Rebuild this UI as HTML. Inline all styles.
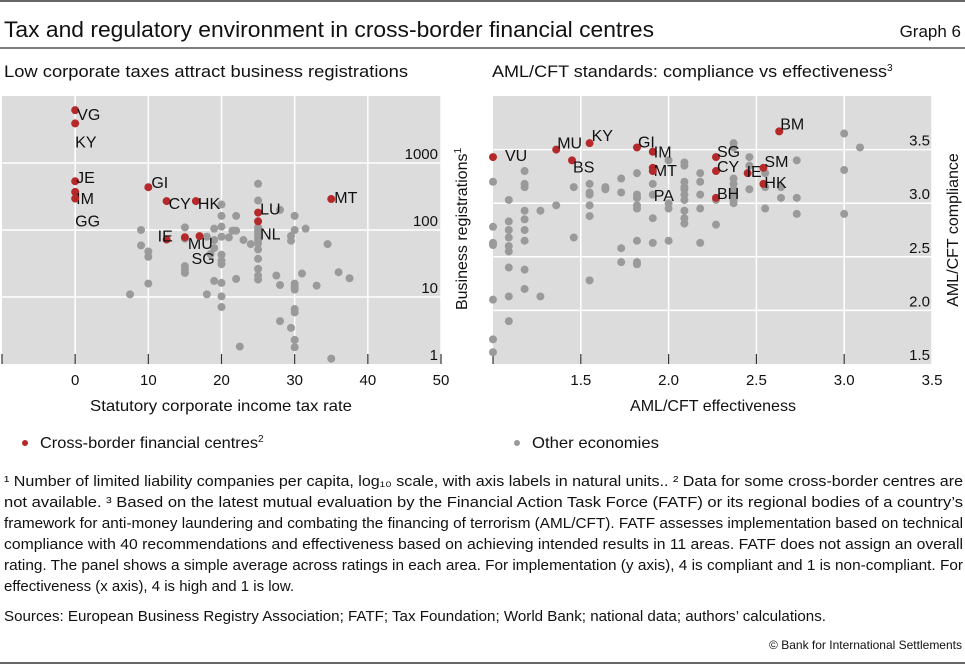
<!DOCTYPE html>
<html><head><meta charset="utf-8"><style>
body{margin:0;background:#fff;}
svg{display:block;font-family:"Liberation Sans",sans-serif;}
</style></head><body>
<svg id="chart" width="965" height="665" viewBox="0 0 965 665" xmlns="http://www.w3.org/2000/svg">
<line x1="0" y1="1" x2="965" y2="1" stroke="#333" stroke-width="1.5"/>
<text x="4" y="37" font-size="22" textLength="650" lengthAdjust="spacingAndGlyphs" fill="#111">Tax and regulatory environment in cross-border financial centres</text>
<text x="961" y="37" font-size="17" text-anchor="end" fill="#111">Graph 6</text>
<line x1="0" y1="48" x2="965" y2="48" stroke="#555" stroke-width="1.5"/>
<text x="4" y="77" font-size="17" textLength="404" lengthAdjust="spacingAndGlyphs" fill="#111">Low corporate taxes attract business registrations</text>
<text x="492" y="77" font-size="17" fill="#111"><tspan textLength="395" lengthAdjust="spacingAndGlyphs">AML/CFT standards: compliance vs effectiveness</tspan><tspan font-size="10" dy="-6">3</tspan></text>
<g id="left"></g>
<g id="right"></g>
<text x="90" y="411" font-size="16" textLength="262" lengthAdjust="spacingAndGlyphs" fill="#111">Statutory corporate income tax rate</text>
<text x="630" y="411" font-size="16" textLength="166" lengthAdjust="spacingAndGlyphs" fill="#111">AML/CFT effectiveness</text>
<text transform="translate(467,229) rotate(-90)" font-size="16" text-anchor="middle" fill="#111">Business registrations<tspan font-size="10" dy="-6">1</tspan></text>
<text transform="translate(958,230) rotate(-90)" font-size="16" text-anchor="middle" fill="#111">AML/CFT compliance</text>
<g><circle cx="25" cy="443" r="3" fill="#b5292a"/><text x="40" y="448" font-size="16" fill="#111"><tspan textLength="218" lengthAdjust="spacingAndGlyphs">Cross-border financial centres</tspan><tspan font-size="10" dy="-6">2</tspan></text></g>
<g><circle cx="517" cy="443" r="3" fill="#999"/><text x="532" y="448" font-size="16" fill="#111" textLength="127" lengthAdjust="spacingAndGlyphs">Other economies</text></g>
<g font-size="14.5" fill="#111">
<text x="4" y="486" textLength="959" lengthAdjust="spacingAndGlyphs">¹  Number of limited liability companies per capita, log₁₀ scale, with axis labels in natural units..   ²  Data for some cross-border centres are</text>
<text x="4" y="507" textLength="959" lengthAdjust="spacingAndGlyphs">not available.   ³  Based on the latest mutual evaluation by the Financial Action Task Force (FATF) or its regional bodies of a country’s</text>
<text x="4" y="528" textLength="959" lengthAdjust="spacingAndGlyphs">framework for anti-money laundering and combating the financing of terrorism (AML/CFT). FATF assesses implementation based on technical</text>
<text x="4" y="549" textLength="959" lengthAdjust="spacingAndGlyphs">compliance with 40 recommendations and effectiveness based on achieving intended results in 11 areas. FATF does not assign an overall</text>
<text x="4" y="570" textLength="959" lengthAdjust="spacingAndGlyphs">rating. The panel shows a simple average across ratings in each area. For implementation (y axis), 4 is compliant and 1 is non-compliant. For</text>
<text x="4" y="591" textLength="290" lengthAdjust="spacingAndGlyphs">effectiveness (x axis), 4 is high and 1 is low.</text>
<text x="4" y="621" textLength="822" lengthAdjust="spacingAndGlyphs">Sources: European Business Registry Association; FATF; Tax Foundation; World Bank; national data; authors’ calculations.</text>
</g>
<text x="962" y="649" font-size="12" text-anchor="end" fill="#111">© Bank for International Settlements</text>
<line x1="0" y1="663" x2="965" y2="663" stroke="#333" stroke-width="1.5"/>
</svg>
<script>
// Left panel data
const leftRedLabels = ["VG","KY","JE","IM","GG","GI","CY","HK","LU","NL","MT","IE","MU","SG"];
const leftRedTax = [0,0,0,0,0,10,12.5,16.5,25,25,35,12.5,15,17];
const leftRedRegs = [6150,3900,535,370,295,435,270,270,182,135,290,72,78,81];
const leftGrayTax = [25,25,28,20,20,22,30,25,25,25,25,25,25,9,15,19,20,21.5,22,30,31.5,29.5,29.5,20,21,19,23,24,34.5,9,10,10,15,18,19,18.5,20,20,20,25,25,25,25,25,15,15,15,27.5,31,36,37.5,22,19,20,10,28,30,30,30,33,7.5,18,20,20,30,30,28,29.5,30,30,22.5,35];
const leftGrayLog = [2.69,2.44,2.30,2.38,2.21,2.21,2.21,2.04,1.99,1.95,1.90,1.85,1.80,2.00,2.04,2.02,2.05,1.99,1.99,2.00,2.02,1.91,1.84,1.90,1.89,1.85,1.85,1.79,1.79,1.77,1.68,1.60,1.87,1.90,1.73,1.64,1.63,1.54,1.49,1.71,1.57,1.42,1.32,1.26,1.46,1.41,1.36,1.32,1.35,1.37,1.28,1.27,1.24,1.21,1.20,1.18,1.20,1.15,1.11,1.17,1.04,1.04,1.01,0.85,0.82,0.77,0.64,0.54,0.36,0.25,0.26,0.08];
const leftXTicks = [0,10,20,30,40,50];
const leftYTicks = [1,10,100,1000];
const leftYTickLabels = ["1","10","100","1000"];
// Right panel data
const rightRedLabels = ["VU","MU","BS","KY","GI","IM","MT","PA","SG","CY","BH","IE","SM","HK","BM"];
const rightRedEff = [1.0,1.36,1.45,1.55,1.82,1.91,1.91,1.91,2.27,2.27,2.27,2.45,2.54,2.54,2.63];
const rightRedComp = [3.43,3.5,3.40,3.56,3.52,3.48,3.33,3.30,3.43,3.30,3.05,3.28,3.33,3.18,3.67];
const rightGrayEff = [1,1,1,1,1,1,1, 1.09,1.09,1.09,1.09,1.09,1.09,1.09,1.09,1.09, 1.18,1.18,1.18,1.18,1.18,1.18,1.18,1.18,1.18, 1.27,1.27,1.36,1.46,1.46, 1.55,1.55,1.55,1.55,1.55,1.55, 1.64,1.64, 1.73,1.73,1.73,1.73, 1.82,1.82,1.82,1.82,1.82,1.82,1.82,1.82, 1.91,1.91,1.91,1.91, 2.0,2.0,2.0,2.0, 2.09,2.09,2.09,2.09,2.09,2.09,2.09,2.09,2.09,2.09, 2.18,2.18,2.18,2.18,2.18, 2.27,2.27, 2.37,2.37,2.37,2.37,2.37,2.37,2.37,2.37, 2.46,2.46,2.46, 2.55,2.55,2.55, 2.64,2.64, 2.73,2.73,2.73, 3.0,3.0,3.0, 3.09];
const rightGrayComp = [3.20,2.78,2.63,2.61,2.10,1.73,1.61, 3.03,2.83,2.75,2.68,2.60,2.55,2.40,2.13,1.90, 3.30,3.18,3.15,2.93,2.85,2.75,2.65,2.38,2.20, 2.93,2.13,2.98,3.15,2.68, 3.18,3.10,3.08,2.98,2.88,2.28, 3.15,3.13, 3.23,3.10,2.58,2.45, 3.28,3.08,3.05,2.98,2.95,2.65,2.45,2.43, 3.18,3.08,2.86,2.63, 3.40,3.00,2.95,2.65, 3.38,3.35,3.20,3.15,3.13,3.08,3.03,2.93,2.86,2.81, 3.28,3.20,3.08,2.95,2.63, 3.03,2.80, 3.56,3.52,3.23,3.18,3.13,3.08,3.03,3.00, 3.43,3.35,3.13, 3.28,3.15,2.95, 3.15,3.05, 3.40,3.05,2.90, 3.65,3.31,2.90, 3.52];
const rightXTicks = [1.5,2.0,2.5,3.0,3.5];
const rightYTicks = [1.5,2.0,2.5,3.0,3.5];
// label offsets (layout, not data)
const leftLabelOffsets = [[2,4],[0,18],[1,-4],[1,6],[0,22],[3,-5],[2,2],[2,2],[2,-4],[2,12],[3,-2],[-9,-4],[3,6],[-8,22]];
const rightLabelOffsets = [[12,2],[1,-3],[1,10],[2,-4],[1,-2],[1,4],[1,6],[1,28],[1,-2],[1,-1],[1,-1],[-1,2],[1,-3],[1,2],[1,-4]];

const NS="http://www.w3.org/2000/svg";
function mk(tag,attrs,parent){const e=document.createElementNS(NS,tag);for(const k in attrs)e.setAttribute(k,attrs[k]);parent.appendChild(e);return e;}
const RED="#b5292a",GRAY="#9a9a9a";

// Left scales
const L={x0:2,x1:441,y0:364,y1:96,xmin:-10,xmax:50,lmin:0,lmax:4};
const lx=v=>L.x0+(v-L.xmin)/(L.xmax-L.xmin)*(L.x1-L.x0);
const lyLog=lv=>L.y0-(lv-L.lmin)/(L.lmax-L.lmin)*(L.y0-L.y1);
const ly=v=>lyLog(Math.log10(v));
const left=document.getElementById('left');
let bg=mk('rect',{x:L.x0,y:L.y1,width:L.x1-L.x0,height:L.y0-L.y1,fill:"#dcdcdc"},left);


leftXTicks.forEach(t=>{
  const g=mk('line',{x1:lx(t),x2:lx(t),y1:L.y1,y2:L.y0,stroke:"#fff","stroke-width":1.5},left);
  
  
  const tk=mk('line',{x1:lx(t),x2:lx(t),y1:L.y0-10,y2:L.y0,stroke:"#333","stroke-width":1.2},left);
  
  
  const tx=mk('text',{x:lx(t),y:385,"font-size":15,"text-anchor":"middle",fill:"#111"},left);
  tx.textContent=t;
  
  
});
mk('line',{x1:L.x0,x2:L.x0,y1:L.y0-10,y2:L.y0,stroke:"#333","stroke-width":1.2},left);
leftYTicks.forEach((t,i)=>{
  if(t>1){const g=mk('line',{x1:L.x0,x2:L.x1,y1:ly(t),y2:ly(t),stroke:"#fff","stroke-width":1.5},left);
  
  }
  const tx=mk('text',{x:438,y:ly(t)-4,"font-size":15,"text-anchor":"end",fill:"#111"},left);
  tx.textContent=leftYTickLabels[i];
  
  
});
leftGrayTax.forEach((v,i)=>{
  const c=mk('circle',{cx:lx(v),cy:lyLog(leftGrayLog[i]),r:4,fill:GRAY},left);
  
  
});
leftRedTax.forEach((v,i)=>{
  const cx=lx(v),cy=ly(leftRedRegs[i]);
  const c=mk('circle',{cx:cx,cy:cy,r:4,fill:RED},left);
  
  
  const o=leftLabelOffsets[i];
  const t=mk('text',{x:cx+o[0],y:cy+o[1]+6,"font-size":16,fill:"#111"},left);
  t.textContent=leftRedLabels[i];
  
  
});

// Right scales
const R={x0:493,x1:932,y0:364,y1:96,xmin:1,xmax:3.5,ymin:1.5,ymax:4};
const rx=v=>R.x0+(v-R.xmin)/(R.xmax-R.xmin)*(R.x1-R.x0);
const ry=v=>R.y0-(v-R.ymin)/(R.ymax-R.ymin)*(R.y0-R.y1);
const right=document.getElementById('right');
bg=mk('rect',{x:R.x0,y:R.y1,width:R.x1-R.x0,height:R.y0-R.y1,fill:"#dcdcdc"},right);


rightXTicks.forEach(t=>{
  const g=mk('line',{x1:rx(t),x2:rx(t),y1:R.y1,y2:R.y0,stroke:"#fff","stroke-width":1.5},right);
  
  
  if(t<3.5){const tk=mk('line',{x1:rx(t),x2:rx(t),y1:R.y0-10,y2:R.y0,stroke:"#333","stroke-width":1.2},right);
  
  }
  const tx=mk('text',{x:rx(t),y:385,"font-size":15,"text-anchor":"middle",fill:"#111"},right);
  tx.textContent=t.toFixed(1);
  
  
});
mk('line',{x1:R.x0,x2:R.x0,y1:R.y0-10,y2:R.y0,stroke:"#333","stroke-width":1.2},right);
rightYTicks.forEach(t=>{
  if(t>1.5){const g=mk('line',{x1:R.x0,x2:R.x1,y1:ry(t),y2:ry(t),stroke:"#fff","stroke-width":1.5},right);
  
  }
  const tx=mk('text',{x:930,y:ry(t)-4,"font-size":15,"text-anchor":"end",fill:"#111"},right);
  tx.textContent=t.toFixed(1);
  
  
});
rightGrayEff.forEach((v,i)=>{
  const c=mk('circle',{cx:rx(v),cy:ry(rightGrayComp[i]),r:4,fill:GRAY},right);
  
  
});
rightRedEff.forEach((v,i)=>{
  const cx=rx(v),cy=ry(rightRedComp[i]);
  const c=mk('circle',{cx:cx,cy:cy,r:4,fill:RED},right);
  
  
  const o=rightLabelOffsets[i];
  const t=mk('text',{x:cx+o[0],y:cy+o[1]+2,"font-size":16,fill:"#111"},right);
  t.textContent=rightRedLabels[i];
  
  
});
</script>
</body></html>
